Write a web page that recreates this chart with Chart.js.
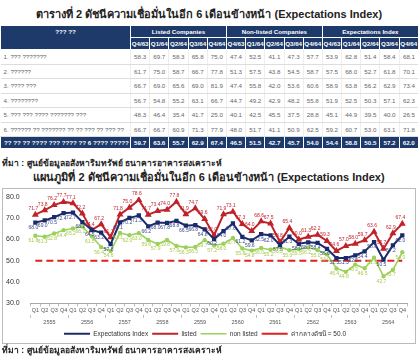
<!DOCTYPE html>
<html>
<head>
<meta charset="utf-8">
<script src="https://cdn.jsdelivr.net/npm/chart.js@4.4.0/dist/chart.umd.min.js"></script>
<style>
  body { margin: 0; width: 418px; height: 361px; overflow: hidden; background: #fff; position: relative;
         font-family: "Liberation Sans", Arial, "DejaVu Sans", sans-serif; }
  .ttl { position: absolute; left: 0; width: 418px; text-align: center; font-weight: bold; font-size: 11px; color: #222; }
  .src { position: absolute; left: 2px; font-weight: bold; font-size: 8.5px; color: #222; }
  #tbl { position: absolute; left: 0; top: 25px; width: 418px; border-collapse: collapse; table-layout: fixed;
         font-size: 6.2px; color: #666; }
  #tbl th { background: #1d3a6b; color: #fff; font-weight: bold; border: 1px solid #fff; height: 11px; padding: 0; }
  #tbl th.reg { vertical-align: top; padding-top: 2px; }
  #tbl td { height: 13.5px; padding: 0; text-align: center; border-bottom: 1px solid #ddd; border-left: 1px solid #eee; }
  #tbl td.name { text-align: left; padding-left: 3px; border-left: none; white-space: nowrap; overflow: hidden; }
  #tbl tr.total td { background: #1d3a6b; color: #fff; font-weight: bold; border: 1px solid #fff; height: 11px; }
  #tbl tr.total td.name { text-align: center; }
  #box { position: absolute; left: 2px; top: 188px; width: 412px; height: 154px; border: 1px solid #bbb; }
  #chart { position: absolute; left: 0; top: 0; }
</style>
</head>
<body>
<div class="ttl" style="top:5px">ตารางที่ 2 ดัชนีความเชื่อมั่นในอีก 6 เดือนข้างหน้า (Expectations Index)</div>
<table id="tbl"></table>
<div class="src" style="top:156px">ที่มา : ศูนย์ข้อมูลอสังหาริมทรัพย์ ธนาคารอาคารสงเคราะห์</div>
<div class="ttl" style="top:168px">แผนภูมิที่ 2 ดัชนีความเชื่อมั่นในอีก 6 เดือนข้างหน้า (Expectations Index)</div>
<div id="box"><canvas id="chart" width="412" height="158"></canvas></div>
<div class="src" style="top:343px">ที่มา : ศูนย์ข้อมูลอสังหาริมทรัพย์ ธนาคารอาคารสงเคราะห์</div>

<script>
// table data
const tableGroups = ['Listed Companies', 'Non-listed Companies', 'Expectations Index'];
const tableQuarters = ['Q4/63', 'Q1/64', 'Q2/64', 'Q3/64', 'Q4/64'];
const regionHeader = '??? ??';
const rowNames = ['1. ??? ???????', '2. ??????', '3. ???? ???', '4. ????????',
  '5. ??? ??? ???? ??????? ???', '6. ?????? ?? ??????? ?? ?? ??? ?? ??? ??'];
const totalName = '?? ?? ?? ???? ??? ???? ?? 6 ???? ????? ??';
const row1 = [58.3, 69.7, 58.3, 65.8, 75.0, 47.4, 52.5, 41.1, 47.3, 57.7, 53.9, 62.8, 51.4, 58.4, 68.1];
const row2 = [61.7, 75.0, 58.7, 66.7, 77.8, 51.3, 57.5, 43.8, 54.5, 58.7, 57.5, 68.0, 52.7, 61.8, 70.1];
const row3 = [66.7, 69.0, 65.6, 69.0, 81.9, 47.4, 55.8, 42.0, 53.6, 60.6, 58.9, 63.8, 56.2, 62.9, 73.4];
const row4 = [56.7, 54.8, 55.2, 63.1, 66.7, 44.7, 49.2, 42.9, 48.2, 55.8, 51.9, 52.5, 50.3, 57.1, 62.3];
const row5 = [48.3, 46.4, 35.4, 41.7, 25.0, 40.1, 42.5, 45.5, 37.5, 28.8, 45.1, 44.9, 39.5, 40.0, 26.5];
const row6 = [66.7, 66.7, 60.9, 71.3, 77.9, 48.0, 51.7, 41.1, 50.9, 62.5, 59.2, 60.7, 53.0, 63.1, 71.8];
const totalRow = [59.7, 63.6, 55.7, 62.9, 67.4, 46.5, 51.5, 42.7, 45.7, 54.0, 54.4, 58.8, 50.5, 57.2, 62.0];

// chart data
const years = ['2555', '2556', '2557', '2558', '2559', '2560', '2561', '2562', '2563', '2564'];
const quarters = ['Q1', 'Q2', 'Q3', 'Q4'];
const expectations = [68.0, 69.0, 70.5, 72.4, 72.7, 68.2, 64.5, 63.2,
  57.8, 68.1, 70.2, 71.3, 66.2, 68.0, 67.8, 68.8,
  66.5, 66.8, 64.8, 60.2, 64.0, 67.6, 61.2, 59.6,
  62.5, 62.0, 57.5, 61.3, 58.0, 58.7, 58.4, 55.6,
  51.3, 51.3, 52.5, 54.4, 58.8, 50.5, 57.2, 62.0];
const listed = [71.7, 73.8, 76.2, 77.7, 77.1, 72.2, 64.4, 67.2,
  61.1, 71.8, 75.0, 78.6, 71.7, 73.4, 74.0, 77.8,
  71.9, 74.7, 69.6, 62.0, 71.9, 73.1, 67.3, 64.0,
  68.6, 67.5, 58.8, 65.4, 60.0, 61.3, 62.2, 59.3,
  54.6, 57.0, 58.0, 59.7, 63.6, 55.7, 62.9, 67.4];
const nonListed = [61.8, 61.3, 62.8, 64.4, 65.2, 66.1, 61.5, 56.4,
  54.6, 63.1, 62.0, 63.0, 59.8, 57.9, 59.8, 57.0,
  56.3, 56.5, 59.7, 57.2, 58.0, 60.7, 55.8, 54.8,
  56.0, 55.2, 56.5, 55.0, 55.5, 56.2, 55.0, 53.0,
  46.4, 44.8, 48.2, 46.5, 51.5, 42.7, 45.7, 54.0];
const midValue = 50.0;

// build table
const tbl = document.getElementById('tbl');
let html = '<colgroup><col style="width:130px">';
for (let i = 0; i < 15; i++) html += '<col style="width:19.2px">';
html += '</colgroup>';
html += '<tr><th class="reg" rowspan="2">' + regionHeader + '</th>';
tableGroups.forEach(g => { html += '<th colspan="5">' + g + '</th>'; });
html += '</tr><tr>';
tableGroups.forEach(() => tableQuarters.forEach(q => { html += '<th>' + q + '</th>'; }));
html += '</tr>';
[row1, row2, row3, row4, row5, row6].forEach((r, i) => {
  html += '<tr><td class="name">' + rowNames[i] + '</td>';
  r.forEach(v => { html += '<td>' + v.toFixed(1) + '</td>'; });
  html += '</tr>';
});
html += '<tr class="total"><td class="name">' + totalName + '</td>';
totalRow.forEach(v => { html += '<td>' + v.toFixed(1) + '</td>'; });
html += '</tr>';
tbl.innerHTML = html;

// chart
const qLabels = [];
years.forEach(() => quarters.forEach(q => qLabels.push(q)));

// small value labels over each point
const pointLabels = {
  id: 'pointLabels',
  afterDatasetsDraw(chart) {
    const ctx = chart.ctx;
    ctx.save();
    ctx.font = '5px "Liberation Sans", Arial';
    ctx.textAlign = 'center';
    ctx.textBaseline = 'middle';
    chart.data.datasets.forEach((ds, i) => {
      if (!ds.labelOffset) return;
      const meta = chart.getDatasetMeta(i);
      ctx.fillStyle = ds.labelColor;
      meta.data.forEach((pt, j) => {
        ctx.fillText(ds.data[j].toFixed(1), pt.x - 2, pt.y + ds.labelOffset);
      });
    });
    ctx.restore();
  }
};

new Chart(document.getElementById('chart'), {
  type: 'line',
  data: {
    labels: qLabels,
    datasets: [
      {
        label: 'Expectations Index',
        data: expectations,
        borderColor: '#1b2a6b',
        backgroundColor: '#1b2a6b',
        borderWidth: 2,
        pointStyle: 'rect',
        pointRadius: 1.6,
        labelOffset: 5,
        labelColor: '#3a4a8a'
      },
      {
        label: 'listed',
        data: listed,
        borderColor: '#c0222a',
        backgroundColor: '#c0222a',
        borderWidth: 2,
        pointStyle: 'triangle',
        pointRadius: 2,
        labelOffset: -6,
        labelColor: '#c0222a'
      },
      {
        label: 'non listed',
        data: nonListed,
        borderColor: '#9bd15a',
        backgroundColor: '#9bd15a',
        borderWidth: 1.6,
        pointRadius: 1.4,
        labelOffset: 5,
        labelColor: '#a6c94a'
      },
      {
        label: 'ค่ากลางดัชนี = 50.0',
        data: qLabels.map(() => midValue),
        borderColor: '#e0201c',
        borderWidth: 2,
        borderDash: [7, 4],
        pointRadius: 0
      }
    ]
  },
  options: {
    responsive: false,
    animation: false,
    layout: {padding: {top: 8, left: 0, right: 8, bottom: 0}},
    plugins: {
      legend: {
        position: 'bottom',
        labels: {
          usePointStyle: true,
          pointStyle: 'line',
          pointStyleWidth: 26,
          boxHeight: 6,
          padding: 4,
          color: '#333',
          font: {size: 6.5}
        }
      },
      tooltip: {enabled: false}
    },
    scales: {
      y: {
        min: 30,
        max: 80,
        ticks: {stepSize: 10, color: '#333', font: {size: 7}, callback: v => v.toFixed(1)},
        grid: {display: false},
        border: {display: false}
      },
      x: {
        offset: true,
        ticks: {color: '#555', font: {size: 5.5}, maxRotation: 0, autoSkip: false, padding: 1},
        grid: {drawOnChartArea: false, offset: true, tickLength: 3, color: '#bbb'},
        border: {color: '#aaa'}
      },
      xYear: {
        type: 'category',
        position: 'bottom',
        labels: years,
        offset: true,
        ticks: {color: '#555', font: {size: 5.5}, maxRotation: 0, padding: 1},
        grid: {drawOnChartArea: false, offset: true, tickLength: 3, color: '#bbb'},
        border: {display: false}
      }
    }
  },
  plugins: [pointLabels]
});
</script>
</body>
</html>
